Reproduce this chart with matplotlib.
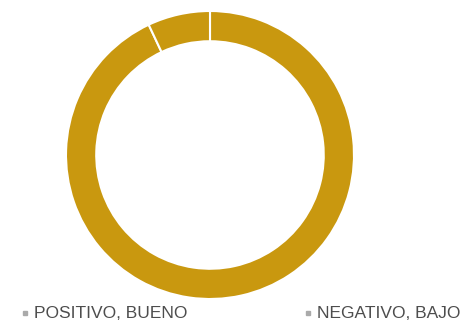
import matplotlib
matplotlib.use("Agg")
import matplotlib.pyplot as plt
from matplotlib.lines import Line2D

labels = ["POSITIVO, BUENO", "NEGATIVO, BAJO"]
values = [93, 7]
colors = ["#C9980F", "#C9980F"]

plt.rcParams["font.family"] = ["Liberation Sans", "DejaVu Sans"]

W, H = 468, 322
fig = plt.figure(figsize=(W / 100, H / 100), dpi=100)
ax = fig.add_axes([66 / W, 23 / H, 288 / W, 288 / H])

ax.pie(values, colors=colors, startangle=90, counterclock=False, radius=1.0,
       wedgeprops=dict(width=0.21, edgecolor="white", linewidth=1.5))
ax.set_xlim(-1, 1)
ax.set_ylim(-1, 1)
ax.set_aspect("equal")
ax.axis("off")

# legend along the bottom edge
legend_x = [25, 308]
for lab, x in zip(labels, legend_x):
    fig.add_artist(Line2D([x / W], [9 / H], transform=fig.transFigure, marker="s",
                          markersize=3, color="#aaaaaa", linestyle="none"))
    fig.text((x + 9) / W, 4 / H, lab, fontsize=12.5, color="#4d4d4d", va="baseline")

fig.savefig("out.png", dpi=100)
